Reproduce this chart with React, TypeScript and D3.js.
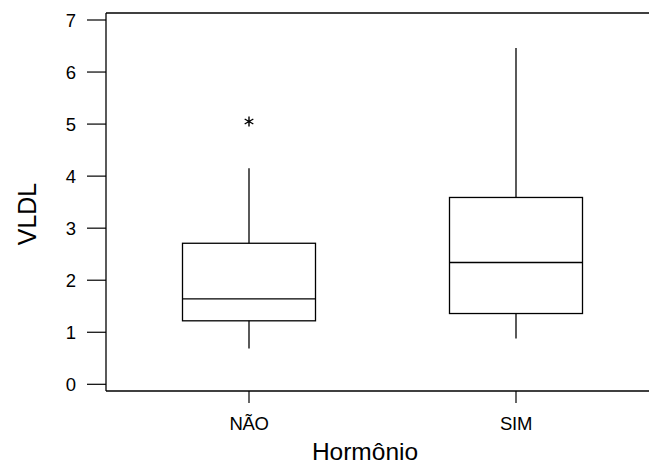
import React from "react";
import * as d3 from "d3";

// VLDL by hormone group: five-number summaries plus outliers
const categories = ["NÃO", "SIM"];
const q1 = [1.22, 1.36];
const median = [1.64, 2.34];
const q3 = [2.71, 3.59];
const whiskerLow = [0.69, 0.88];
const whiskerHigh = [4.15, 6.46];
const outliers: number[][] = [[5.05], []];
const yTicks = [0, 1, 2, 3, 4, 5, 6, 7];

const W = 649;
const H = 468;
const frameLeft = 106;
const frameTop = 13;
const frameBottom = 391;
const boxWidth = 133;

export default function App() {
  const y = d3.scaleLinear().domain([0, 7]).range([384.3, 20]);
  const x = d3.scalePoint<string>().domain(categories).range([249, 516]);
  const star = d3.symbol(d3.symbolAsterisk, 70)() as string;
  const font = "Liberation Sans, Arial, Helvetica, sans-serif";
  const stroke = "#000";

  return (
    <svg
      width={W}
      height={H}
      style={{ position: "absolute", left: 0, top: 0, background: "#fff" }}
      fontFamily={font}
    >
      <rect width={W} height={H} fill="#fff" />
      {/* frame: left spine, top and bottom rules */}
      <line x1={frameLeft} x2={frameLeft} y1={frameTop} y2={frameBottom} stroke={stroke} strokeWidth={1.3} />
      <line x1={frameLeft} x2={W} y1={frameTop} y2={frameTop} stroke={stroke} strokeWidth={1.3} />
      <line x1={frameLeft} x2={W} y1={frameBottom} y2={frameBottom} stroke={stroke} strokeWidth={1.3} />

      {/* y axis ticks */}
      {yTicks.map((t) => (
        <g key={t}>
          <line x1={87} x2={frameLeft} y1={y(t)} y2={y(t)} stroke={stroke} strokeWidth={1.2} />
          <text x={76} y={y(t)} dy="0.36em" textAnchor="end" fontSize={18.5} fill="#000">
            {t}
          </text>
        </g>
      ))}

      {/* x axis ticks */}
      {categories.map((c) => (
        <g key={c}>
          <line x1={x(c)} x2={x(c)} y1={frameBottom} y2={403} stroke={stroke} strokeWidth={1.2} />
          <text x={x(c)} y={430} textAnchor="middle" fontSize={18.5} fill="#000" letterSpacing={-0.3}>
            {c}
          </text>
        </g>
      ))}

      {/* boxes */}
      {categories.map((c, i) => {
        const cx = x(c) as number;
        const x0 = cx - boxWidth / 2;
        return (
          <g key={c} stroke={stroke} strokeWidth={1.3} fill="none">
            <line x1={cx} x2={cx} y1={y(q3[i])} y2={y(whiskerHigh[i])} />
            <line x1={cx} x2={cx} y1={y(q1[i])} y2={y(whiskerLow[i])} />
            <rect x={x0} y={y(q3[i])} width={boxWidth} height={y(q1[i]) - y(q3[i])} />
            <line x1={x0} x2={x0 + boxWidth} y1={y(median[i])} y2={y(median[i])} />
            {outliers[i].map((v, j) => (
              <path key={j} d={star} transform={`translate(${cx},${y(v)})`} strokeWidth={1.4} />
            ))}
          </g>
        );
      })}

      {/* axis titles */}
      <text
        transform="translate(36,214) rotate(-90)"
        textAnchor="middle"
        fontSize={25}
        fill="#000"
      >
        VLDL
      </text>
      <text x={365} y={460} textAnchor="middle" fontSize={24.5} fill="#000">
        Hormônio
      </text>
    </svg>
  );
}
